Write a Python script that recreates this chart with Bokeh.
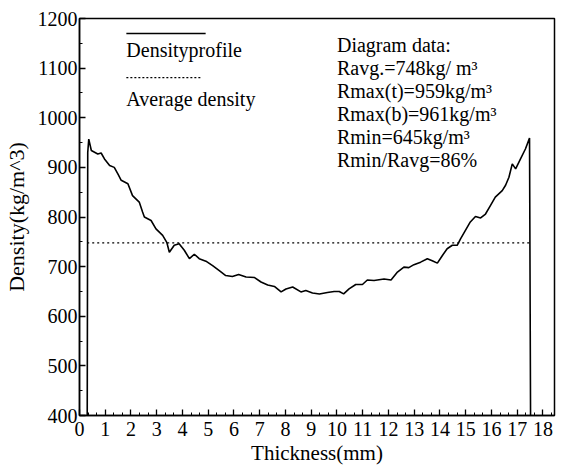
from bokeh.plotting import figure
from bokeh.models import Range1d, FixedTicker, Label, Arrow
from bokeh.embed import file_html
from bokeh.resources import INLINE

# ---- data ----
thickness = [0.30, 0.32, 0.36, 0.46, 0.71, 0.84, 0.97, 1.17, 1.35, 1.49, 1.62, 1.88,
             2.06, 2.32, 2.45, 2.52, 2.78, 2.97, 3.23, 3.39, 3.49, 3.68, 3.87, 4.07,
             4.27, 4.46, 4.65, 4.91, 5.17, 5.43, 5.68, 5.94, 6.18, 6.47, 6.80, 7.05,
             7.31, 7.57, 7.83, 8.02, 8.28, 8.60, 8.79, 9.05, 9.32, 9.63, 9.89, 10.09,
             10.26, 10.47, 10.73, 10.99, 11.18, 11.44, 11.83, 12.10, 12.35, 12.60,
             12.79, 12.99, 13.25, 13.51, 13.70, 13.90, 14.09, 14.28, 14.48, 14.67,
             14.80, 14.99, 15.18, 15.38, 15.58, 15.77, 15.96, 16.15, 16.42, 16.55,
             16.68, 16.81, 16.94, 17.13, 17.32, 17.48, 17.52]
density = [400, 930, 957, 934, 927, 929, 917, 904, 900, 887, 874, 867,
           843, 830, 810, 800, 793, 776, 763, 749, 729, 743, 746, 733,
           716, 725, 716, 711, 702, 692, 682, 680, 684, 679, 678, 669,
           663, 660, 649, 655, 659, 649, 652, 647, 645, 648, 650, 650,
           645, 655, 664, 664, 673, 672, 675, 673, 689, 699,
           698, 704, 709, 716, 712, 707, 722, 736, 743, 743,
           756, 773, 790, 801, 798, 806, 823, 840, 853, 864,
           880, 907, 897, 917, 937, 959, 400]
avg_density = 748

x_ticks = list(range(0, 19))
y_ticks = [400, 500, 600, 700, 800, 900, 1000, 1100, 1200]

legend_labels = ["Densityprofile", "Average density"]
info_lines = ["Diagram data:",
              "Ravg.=748kg/ m\u00b3",
              "Rmax(t)=959kg/m\u00b3",
              "Rmax(b)=961kg/m\u00b3",
              "Rmin=645kg/m\u00b3",
              "Rmin/Ravg=86%"]

FONT = "Liberation Serif"

p = figure(width=560, height=471, output_backend="svg", toolbar_location=None,
           x_range=Range1d(0, 18.45), y_range=Range1d(400, 1200),
           min_border_left=78, min_border_right=6, min_border_top=18,
           min_border_bottom=56)
p.background_fill_color = "white"
p.border_fill_color = "white"
p.outline_line_color = "black"
p.outline_line_width = 1.5
p.xgrid.visible = False
p.ygrid.visible = False

for ax in (p.xaxis[0], p.yaxis[0]):
    ax.axis_line_color = "black"
    ax.axis_line_width = 1.5
    ax.major_tick_in = 6
    ax.major_tick_out = 0
    ax.minor_tick_in = 3
    ax.minor_tick_out = 0
    ax.major_tick_line_width = 1.3
    ax.minor_tick_line_width = 1.0
    ax.major_label_text_font = FONT
    ax.major_label_text_font_size = "20px"
    ax.major_label_text_color = "black"
    ax.axis_label_text_font = FONT
    ax.axis_label_text_font_size = "21px"
    ax.axis_label_text_font_style = "normal"
    ax.axis_label_text_color = "black"

p.xaxis.ticker = FixedTicker(ticks=x_ticks,
                             minor_ticks=[t + f for t in x_ticks for f in (1/3, 2/3)])
p.yaxis.ticker = FixedTicker(ticks=y_ticks, minor_ticks=[t + 50 for t in y_ticks])
p.xaxis.axis_label = "Thickness(mm)"
p.yaxis.axis_label = "Density(kg/m^3)"
p.yaxis.axis_label_text_font_size = "22px"
p.xaxis.major_label_standoff = 6
p.yaxis.major_label_standoff = 2
p.xaxis.axis_label_standoff = 2
p.yaxis.axis_label_standoff = 6

# density profile
p.line(thickness, density, line_color="black", line_width=1.6)
# average density line across the profile
p.line([thickness[0], thickness[-1]], [avg_density, avg_density],
       line_color="black", line_width=1.2, line_dash="2 3")

# ---- hand-drawn legend (annotation) ----
p.add_layout(Arrow(x_start=1.82, y_start=1170, x_end=4.9, y_end=1170, end=None,
                   line_color="black", line_width=1.5))
p.add_layout(Arrow(x_start=1.82, y_start=1081, x_end=4.7, y_end=1081, end=None,
                   line_color="black", line_width=1.2, line_dash="2 2"))
p.add_layout(Label(x=1.82, y=1136, text=legend_labels[0], text_font=FONT,
                   text_font_size="20px", text_baseline="middle", text_color="black"))
p.add_layout(Label(x=1.82, y=1037, text=legend_labels[1], text_font=FONT,
                   text_font_size="20px", text_baseline="middle", text_color="black"))

for i, t in enumerate(info_lines):
    p.add_layout(Label(x=10.0, y=1146 - i * 46.3, text=t, text_font=FONT,
                       text_font_size="20px", text_baseline="middle",
                       text_color="black"))

open("out.html", "w").write(file_html(p, INLINE))
